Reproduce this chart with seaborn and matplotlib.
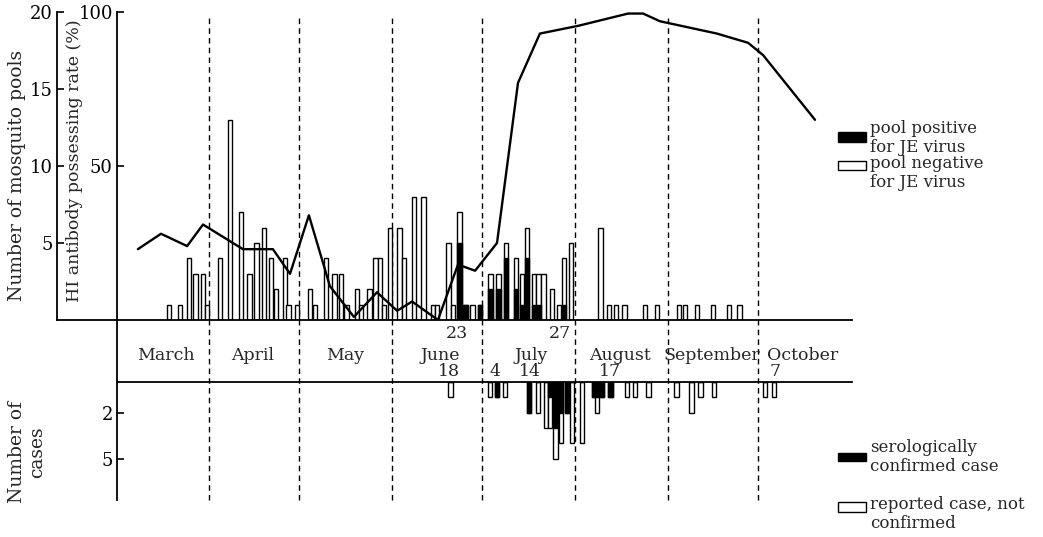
import matplotlib
matplotlib.use("Agg")
import matplotlib.pyplot as plt
import matplotlib.patches as mpatches
import seaborn as sns

sns.set_style("white")
plt.rcParams['font.family'] = ['DejaVu Serif', 'DejaVu Sans']

# ---- data (x = days counted from 1 March) ----
pool_days = [17.7, 21.2, 24.2, 26.5, 29.0, 30.3, 34.8, 38.0, 41.8, 44.5, 46.8, 49.2,
             51.8, 53.3, 56.3, 57.5, 60.2, 64.7, 66.3, 70.0, 72.8, 75.0, 76.8, 80.2,
             81.7, 84.5, 86.5, 88.0, 89.3, 91.3, 94.5, 96.0, 99.2, 102.5, 105.7, 107.0,
             110.8, 112.3, 114.5, 116.5, 118.8, 121.2, 124.8, 127.5, 130.0, 133.2, 135.2,
             137.0, 139.3, 140.8, 142.5, 145.3, 147.7, 149.2, 151.7, 161.5, 164.3, 166.7,
             169.5, 176.3, 180.2, 187.7, 189.7, 193.7, 199.0, 204.2, 207.8]
pool_total = [1, 1, 4, 3, 3, 1, 4, 13, 7, 3, 5, 6,
              4, 2, 4, 1, 1, 2, 1, 4, 3, 3, 1, 2,
              1, 2, 4, 4, 1, 6, 6, 4, 8, 8, 1, 1,
              5, 1, 7, 1, 1, 1, 3, 3, 5, 4, 3,
              6, 3, 3, 3, 2, 1, 4, 5, 6, 1, 1,
              1, 1, 1, 1, 1, 1, 1, 1, 1]
pool_positive = [0, 0, 0, 0, 0, 0, 0, 0, 0, 0, 0, 0,
                 0, 0, 0, 0, 0, 0, 0, 0, 0, 0, 0, 0,
                 0, 0, 0, 0, 0, 0, 0, 0, 0, 0, 0, 0,
                 0, 0, 5, 1, 0, 1, 2, 2, 4, 2, 1,
                 4, 1, 1, 0, 0, 0, 1, 0, 0, 0, 0,
                 0, 0, 0, 0, 0, 0, 0, 0, 0]

hi_days = [7.3, 15.0, 23.7, 29.0, 42.3, 52.3, 58.0, 64.3, 71.3, 79.3, 87.0, 93.7,
           98.7, 107.3, 114.0, 119.7, 127.0, 134.0, 141.3, 154.0, 170.7, 175.7,
           181.3, 200.3, 210.7, 215.7, 233.0]
hi_rate = [23, 28, 24, 31, 23, 23, 15, 34, 11, 1, 9, 3,
           6, 0, 18, 16, 25, 77, 93, 95.5, 99.5, 99.5,
           97, 93, 90, 86, 65]

case_days = [111.5, 124.7, 127.0, 129.7, 137.7, 140.7, 143.2, 144.7, 146.5, 148.2,
             150.2, 152.0, 155.2, 159.2, 160.2, 162.0, 164.8, 170.3, 173.0, 177.5,
             186.8, 191.8, 194.8, 199.3, 216.3, 219.3]
case_total = [1, 1, 1, 1, 2, 2, 3, 3, 5, 4,
              2, 4, 4, 1, 2, 1, 1, 1, 1, 1,
              1, 2, 1, 1, 1, 1]
case_confirmed = [0, 0, 1, 0, 2, 0, 0, 1, 3, 2,
                  2, 0, 0, 1, 1, 1, 1, 0, 0, 0,
                  0, 0, 0, 0, 0, 0]

months = ["March", "April", "May", "June", "July", "August", "September", "October"]
month_pos = [16.7, 45.7, 76.3, 108.0, 138.3, 168.0, 198.7, 229.0]
month_starts = [31, 61, 92, 122, 153, 184, 214]
upper_dates = ["23", "27"]
upper_date_pos = [113.7, 148.0]
lower_dates = ["18", "4", "14", "17", "7"]
lower_date_pos = [111.0, 126.3, 138.0, 164.7, 219.7]

pool_ticks = [5, 10, 15, 20]
hi_ticks = [50, 100]
case_ticks = [2, 5]

# ---- layout in pixels ----
W, H = 1043, 537
fig = plt.figure(figsize=(W / 100, H / 100), dpi=100)


def box(l, t, r, b):
    return [l / W, 1 - b / H, (r - l) / W, (b - t) / H]


def fx(px):
    return px / W


def fy(py):
    return 1 - py / H


X0 = 116.0     # pixel of day 0
PXD = 3.0      # pixels per day
BW = 1.4       # bar width in days

ax = fig.add_axes(box(57, 12, 852, 320))
ax.set_xlim((57 - X0) / PXD, (852 - X0) / PXD)
ax.set_ylim(0, 20)
ax.patch.set_alpha(0)
for s in ["top", "right"]:
    ax.spines[s].set_visible(False)
for s in ["left", "bottom"]:
    ax.spines[s].set_color("black")
    ax.spines[s].set_linewidth(1.3)
ax.set_xticks([])
ax.set_yticks(pool_ticks)
ax.set_yticklabels([str(t) for t in pool_ticks])
ax.tick_params(axis="y", direction="in", length=5, width=1.2, left=True,
               labelsize=13, pad=3, colors="black")

ax.bar(pool_days, pool_total, width=BW, color="white", edgecolor="black",
       linewidth=1.0, zorder=2)
ax.bar(pool_days, pool_positive, width=BW, color="black", edgecolor="black",
       linewidth=1.0, zorder=3)

ax2 = ax.twinx()
ax2.set_ylim(0, 100)
ax2.set_xlim(ax.get_xlim())
for s in ["top", "right", "bottom"]:
    ax2.spines[s].set_visible(False)
ax2.spines["left"].set_visible(True)
ax2.spines["left"].set_position(("data", (117 - X0) / PXD))
ax2.spines["left"].set_linewidth(1.3)
ax2.spines["left"].set_color("black")
ax2.yaxis.set_ticks_position("left")
ax2.set_yticks(hi_ticks)
ax2.set_yticklabels([str(t) for t in hi_ticks])
ax2.tick_params(axis="y", direction="in", length=5, width=1.2, left=True, right=False,
                labelleft=True, labelright=False, labelsize=13, pad=3, colors="black")
sns.lineplot(x=hi_days, y=hi_rate, ax=ax2, color="black", linewidth=1.7, zorder=5)
ax2.set_xlabel("")
ax2.set_ylabel("")

# bottom (cases) panel
axb = fig.add_axes(box(117, 382, 852, 500))
axb.set_xlim((117 - X0) / PXD, (852 - X0) / PXD)
axb.set_ylim(118 / 15.3, 0)
axb.patch.set_alpha(0)
for s in ["right", "bottom"]:
    axb.spines[s].set_visible(False)
for s in ["left", "top"]:
    axb.spines[s].set_color("black")
    axb.spines[s].set_linewidth(1.3)
axb.set_xticks([])
axb.set_yticks(case_ticks)
axb.set_yticklabels([str(t) for t in case_ticks])
axb.tick_params(axis="y", direction="in", length=5, width=1.2, left=True,
                labelsize=13, pad=3, colors="black")
axb.bar(case_days, case_total, width=BW, color="white", edgecolor="black",
        linewidth=1.0, zorder=2)
axb.bar(case_days, case_confirmed, width=BW, color="black", edgecolor="black",
        linewidth=1.0, zorder=3)

# dashed month separators spanning both panels
span = 320 - 12
for d in month_starts:
    ax.axvline(d, ymin=(320 - 500) / span, ymax=(320 - 18) / span, color="black",
               linestyle=(0, (4, 3)), linewidth=1.0, clip_on=False, zorder=1)
# main vertical axis line through the month band
ax.axvline((117 - X0) / PXD, ymin=(320 - 382) / span, ymax=0, color="black",
           linewidth=1.3, clip_on=False)


# month & date labels (in pool units below the baseline)
def py_to_pool(py):
    return (320 - py) / 15.4


for m, p in zip(months, month_pos):
    ax.text(p, py_to_pool(355), m, ha="center", va="center", fontsize=12.5, clip_on=False)
for t, p in zip(upper_dates, upper_date_pos):
    ax.text(p, py_to_pool(333), t, ha="center", va="center", fontsize=12.5, clip_on=False)
for t, p in zip(lower_dates, lower_date_pos):
    ax.text(p, py_to_pool(371), t, ha="center", va="center", fontsize=12.5, clip_on=False)

# axis titles
fig.text(fx(17), fy(175), "Number of mosquito pools", rotation=90, ha="center",
         va="center", fontsize=13.5)
fig.text(fx(75), fy(161), "HI antibody possessing rate (%)", rotation=90, ha="center",
         va="center", fontsize=12.5)
fig.text(fx(27), fy(452), "Number of\ncases", rotation=90, ha="center", va="center",
         multialignment="center", fontsize=13.5, linespacing=1.1)


# legends
def legend_item(top, bottom, fill, text, ty):
    fig.patches.append(mpatches.Rectangle((fx(838), fy(bottom)), fx(866) - fx(838),
                                          fy(top) - fy(bottom), transform=fig.transFigure,
                                          facecolor=fill, edgecolor="black", linewidth=1.0))
    fig.text(fx(870), fy(ty), text, ha="left", va="center", fontsize=12, linespacing=1.1)


legend_item(132, 142, "black", "pool positive\nfor JE virus", 138)
legend_item(161, 170, "white", "pool negative\nfor JE virus", 173)
legend_item(453, 461, "black", "serologically\nconfirmed case", 457)
legend_item(502, 512, "white", "reported case, not\nconfirmed", 514)

fig.savefig("out.png", dpi=100, facecolor="white")
